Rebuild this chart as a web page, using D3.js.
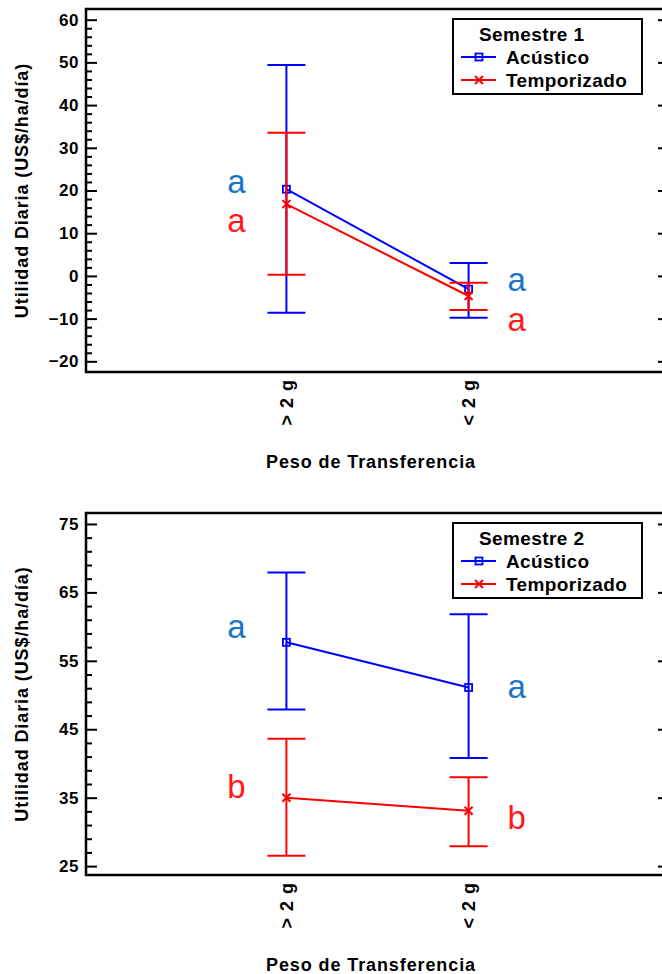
<!DOCTYPE html>
<html>
<head>
<meta charset="utf-8">
<script src="https://cdn.jsdelivr.net/npm/d3@7"></script>
<style>
  body { margin: 0; background: #fff; }
  text { font-family: "Liberation Sans", Arial, sans-serif; }
</style>
</head>
<body>
<svg id="chart"></svg>
<script>
// categories on the x axis
const categories = ["> 2 g", "< 2 g"];
const seriesNames = ["Acústico", "Temporizado"];

// Semestre 1 : means, lower and upper limits
const s1Acustico = [20.3, -3.1];
const s1AcusticoLow = [-8.6, -9.8];
const s1AcusticoHigh = [49.4, 3.0];
const s1Temporizado = [16.8, -4.7];
const s1TemporizadoLow = [0.3, -8.0];
const s1TemporizadoHigh = [33.5, -1.6];
const s1LettersAcustico = ["a", "a"];
const s1LettersTemporizado = ["a", "a"];
const s1LetterYAcustico = [19.4, -3.5];
const s1LetterYTemporizado = [10.3, -12.8];
const s1Ticks = [-20, -10, 0, 10, 20, 30, 40, 50, 60];

// Semestre 2
const s2Acustico = [57.7, 51.1];
const s2AcusticoLow = [47.9, 40.8];
const s2AcusticoHigh = [67.9, 61.8];
const s2Temporizado = [35.0, 33.1];
const s2TemporizadoLow = [26.5, 27.9];
const s2TemporizadoHigh = [43.6, 38.0];
const s2LettersAcustico = ["a", "a"];
const s2LettersTemporizado = ["b", "b"];
const s2LetterYAcustico = [58.3, 49.5];
const s2LetterYTemporizado = [34.9, 30.4];
const s2Ticks = [25, 35, 45, 55, 65, 75];

let width = 662,
  height = 974;

let svg = d3.select("#chart").attr("width", width).attr("height", height);

const lineColors = ["#0000ff", "#ff0000"];
const letterColors = ["#1a75c8", "#ff1a1a"];

const left = 86,
  right = 669;

let x = d3.scaleLinear().domain([-0.1, 3.1]).range([left, right]);

function minorTicks(major, step) {
  let out = [];
  for (let i = 0; i < major.length - 1; i++) {
    for (let v = major[i] + step; v < major[i + 1] - 0.01; v += step) out.push(v);
  }
  return out;
}

function drawPanel(cfg) {
  let g = svg.append("g");
  let y = d3.scaleLinear().domain(cfg.domain).range([cfg.bottom, cfg.top]);

  // axes: ticks pointing inside the frame
  let yAxis = g
    .append("g")
    .attr("transform", `translate(${left},0)`)
    .call(d3.axisLeft(y).tickValues(cfg.ticks).tickSize(-11).tickSizeOuter(0).tickPadding(7));
  yAxis.select(".domain").remove();
  yAxis
    .selectAll("text")
    .style("font-size", "17px")
    .style("font-weight", "bold")
    .style("letter-spacing", "0.5px")
    .attr("fill", "#000");
  yAxis.selectAll("line").attr("stroke", "#000").attr("stroke-width", 2);

  let yMinor = g
    .append("g")
    .attr("transform", `translate(${left},0)`)
    .call(d3.axisLeft(y).tickValues(minorTicks(cfg.ticks, 2)).tickSize(-6).tickFormat(""));
  yMinor.select(".domain").remove();
  yMinor.selectAll("line").attr("stroke", "#000").attr("stroke-width", 2);

  let yRight = g
    .append("g")
    .attr("transform", `translate(${right},0)`)
    .call(d3.axisRight(y).tickValues(cfg.ticks).tickSize(-11).tickFormat(""));
  yRight.select(".domain").remove();
  yRight.selectAll("line").attr("stroke", "#000").attr("stroke-width", 2);

  // frame
  g.append("rect")
    .attr("x", left)
    .attr("y", cfg.top)
    .attr("width", right - left)
    .attr("height", cfg.bottom - cfg.top)
    .attr("fill", "none")
    .attr("stroke", "#000")
    .attr("stroke-width", 2.5);

  // x tick labels (rotated)
  g.selectAll(".xlab")
    .data(categories)
    .enter()
    .append("text")
    .attr("transform", (d, i) => `translate(${x(i + 1)},${cfg.bottom + 7}) rotate(-90)`)
    .attr("text-anchor", "end")
    .attr("dy", "0.36em")
    .style("font-size", "18px")
    .style("font-weight", "bold")
    .style("letter-spacing", "1px")
    .text((d) => d);

  // axis titles
  g.append("text")
    .attr("transform", `translate(22,${(cfg.top + cfg.bottom) / 2}) rotate(-90)`)
    .attr("text-anchor", "middle")
    .attr("dy", "0.36em")
    .style("font-size", "18px")
    .style("font-weight", "bold")
    .style("letter-spacing", "0.9px")
    .text("Utilidad Diaria (US$/ha/día)");

  g.append("text")
    .attr("x", 371)
    .attr("y", cfg.bottom + 96)
    .attr("text-anchor", "middle")
    .style("font-size", "18px")
    .style("font-weight", "bold")
    .style("letter-spacing", "0.9px")
    .text("Peso de Transferencia");

  // series: error bars, lines, markers
  cfg.series.forEach((s, k) => {
    let color = lineColors[k];
    let sg = g.append("g");
    s.mean.forEach((m, i) => {
      let cx = x(i + 1);
      sg.append("line")
        .attr("x1", cx).attr("x2", cx)
        .attr("y1", y(s.low[i])).attr("y2", y(s.high[i]))
        .attr("stroke", color).attr("stroke-width", 2);
      [s.low[i], s.high[i]].forEach((v) => {
        sg.append("line")
          .attr("x1", cx - 19).attr("x2", cx + 19)
          .attr("y1", y(v)).attr("y2", y(v))
          .attr("stroke", color).attr("stroke-width", 2);
      });
    });
    sg.append("path")
      .datum(s.mean)
      .attr("fill", "none")
      .attr("stroke", color)
      .attr("stroke-width", 2)
      .attr("d", d3.line().x((d, i) => x(i + 1)).y((d) => y(d)));
    s.mean.forEach((m, i) => drawMarker(sg, k, x(i + 1), y(m)));

    // significance letters
    s.letters.forEach((t, i) => {
      g.append("text")
        .attr("x", x(i + 1) + (i === 0 ? -50 : 48))
        .attr("y", y(s.letterY[i]))
        .attr("text-anchor", "middle")
        .attr("fill", letterColors[k])
        .style("font-family", '"Liberation Sans Narrow", "Arial Narrow", "Liberation Sans", sans-serif')
        .style("font-size", "33px")
        .text(t);
    });
  });

  // legend
  let lg = g.append("g").attr("transform", `translate(453,${cfg.top + 10})`);
  lg.append("rect")
    .attr("width", 189)
    .attr("height", 75)
    .attr("fill", "#fff")
    .attr("stroke", "#000")
    .attr("stroke-width", 2);
  lg.append("text")
    .attr("x", 26)
    .attr("y", 22)
    .style("font-size", "19px")
    .style("font-weight", "bold")
    .style("letter-spacing", "0.4px")
    .text(cfg.title);
  seriesNames.forEach((name, k) => {
    let ry = 38 + k * 23;
    lg.append("line")
      .attr("x1", 8).attr("x2", 43)
      .attr("y1", ry).attr("y2", ry)
      .attr("stroke", lineColors[k]).attr("stroke-width", 2);
    drawMarker(lg, k, 26, ry);
    lg.append("text")
      .attr("x", 53)
      .attr("y", ry)
      .attr("dy", "0.36em")
      .style("font-size", "19px")
      .style("font-weight", "bold")
      .style("letter-spacing", "0.4px")
      .text(name);
  });
}

function drawMarker(sel, k, cx, cy) {
  if (k === 0) {
    sel.append("rect")
      .attr("x", cx - 3.5).attr("y", cy - 3.5)
      .attr("width", 7).attr("height", 7)
      .attr("fill", "none")
      .attr("stroke", lineColors[0])
      .attr("stroke-width", 1.8);
  } else {
    sel.append("path")
      .attr("d", `M${cx - 4},${cy - 4}L${cx + 4},${cy + 4}M${cx - 4},${cy + 4}L${cx + 4},${cy - 4}`)
      .attr("stroke", lineColors[1])
      .attr("stroke-width", 2);
  }
}

drawPanel({
  top: 9,
  bottom: 372,
  domain: [-22.5, 62.5],
  ticks: s1Ticks,
  title: "Semestre 1",
  series: [
    { mean: s1Acustico, low: s1AcusticoLow, high: s1AcusticoHigh, letters: s1LettersAcustico, letterY: s1LetterYAcustico },
    { mean: s1Temporizado, low: s1TemporizadoLow, high: s1TemporizadoHigh, letters: s1LettersTemporizado, letterY: s1LetterYTemporizado },
  ],
});

drawPanel({
  top: 513,
  bottom: 875,
  domain: [23.7, 76.6],
  ticks: s2Ticks,
  title: "Semestre 2",
  series: [
    { mean: s2Acustico, low: s2AcusticoLow, high: s2AcusticoHigh, letters: s2LettersAcustico, letterY: s2LetterYAcustico },
    { mean: s2Temporizado, low: s2TemporizadoLow, high: s2TemporizadoHigh, letters: s2LettersTemporizado, letterY: s2LetterYTemporizado },
  ],
});
</script>
</body>
</html>
